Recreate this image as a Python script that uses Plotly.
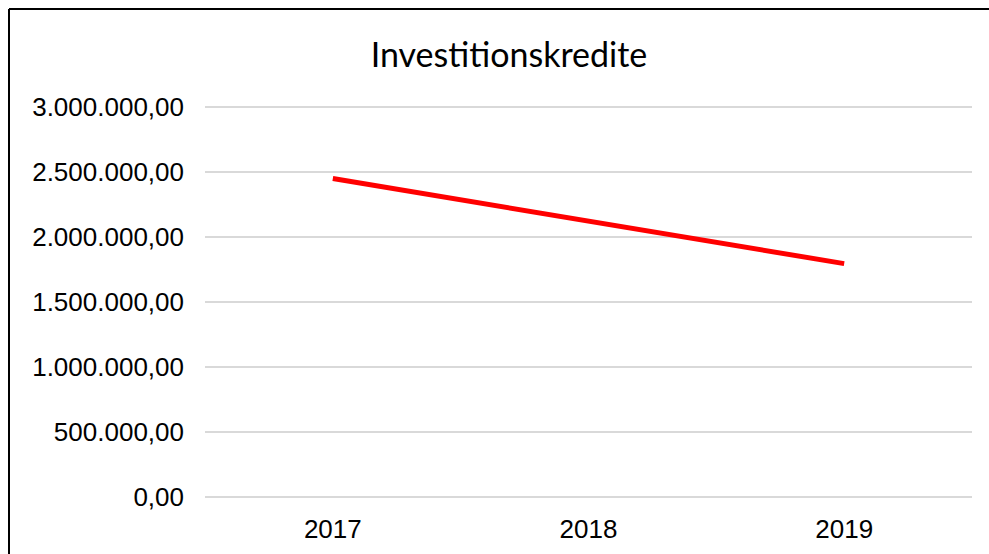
import plotly.graph_objects as go

years = ["2017", "2018", "2019"]
kredite = [2450000, 2120000, 1795000]
y_ticks = [0, 500000, 1000000, 1500000, 2000000, 2500000, 3000000]
y_labels = ["0,00", "500.000,00", "1.000.000,00", "1.500.000,00",
            "2.000.000,00", "2.500.000,00", "3.000.000,00"]

W, H = 989, 554
# target pixel geometry (screen coords in the reference)
x_left, x_right = 205, 972
y_top, y_zero = 107, 497
edge = 2  # px padding so edge gridlines are not clipped
L = x_left
R = W - x_right
T = y_top - edge
B = H - (y_zero + edge)
pw, ph = W - L - R, H - T - B
per_px = 3000000 / (y_zero - y_top)
ymin, ymax = -edge * per_px, 3000000 + edge * per_px

def px_x(p):
    return (p - L) / pw

def px_y(p):
    return (H - B - p) / ph

fig = go.Figure()
fig.add_trace(go.Scatter(
    x=years, y=kredite, mode="lines",
    line=dict(color="#FF0000", width=5),
    showlegend=False, hoverinfo="x+y",
))

bx, by = px_x(9), px_y(9)
border = dict(color="#000000", width=2)
fig.update_layout(
    width=W, height=H,
    margin=dict(l=L, r=R, t=T, b=B, autoexpand=False),
    paper_bgcolor="white", plot_bgcolor="white",
    font=dict(family="Liberation Sans, Arial, sans-serif", size=26, color="#000000"),
    title=dict(
        text="Investitionskredite",
        font=dict(family="Lato, Calibri, sans-serif", size=34, color="#000000"),
        x=509 / W, xanchor="center", xref="container",
        y=1 - 55 / H, yanchor="middle", yref="container",
    ),
    xaxis=dict(
        type="category", range=[-0.5, 2.5], automargin=False,
        showgrid=False, zeroline=False, showline=False,
        ticks="", ticklabelstandoff=12,
    ),
    yaxis=dict(
        range=[ymin, ymax], tickvals=y_ticks, ticktext=y_labels, automargin=False,
        showgrid=True, gridcolor="#D9D9D9", gridwidth=2,
        zeroline=False, showline=False, ticks="", ticklabelstandoff=20,
    ),
    shapes=[
        dict(type="line", xref="paper", yref="paper",
             x0=bx, x1=bx, y0=by, y1=px_y(H + 20), line=border, layer="above"),
        dict(type="line", xref="paper", yref="paper",
             x0=bx, x1=px_x(W + 20), y0=by, y1=by, line=border, layer="above"),
    ],
)

fig.write_html(
    "out.html",
    config={"displayModeBar": False},
    post_script="document.body.style.margin='0';document.body.style.overflow='hidden';",
)
